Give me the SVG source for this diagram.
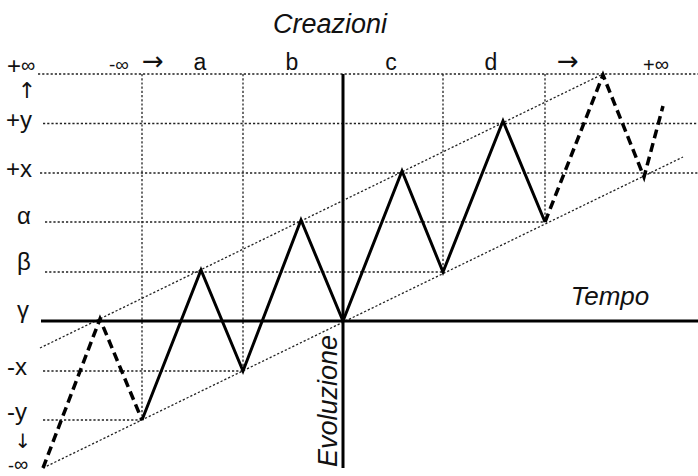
<svg xmlns="http://www.w3.org/2000/svg" width="698" height="476" viewBox="0 0 698 476">
<style>
.dot{stroke:#222;stroke-width:1.3;stroke-dasharray:2.2,2;fill:none}
.axis{stroke:#000;stroke-width:3;fill:none}
.zig{stroke:#000;stroke-width:3;fill:none;stroke-linejoin:miter}
.dash{stroke:#000;stroke-width:3.5;fill:none;stroke-dasharray:9,5}
text{font-family:"Liberation Sans","DejaVu Sans",Arial,sans-serif;fill:#111}
.lbl{font-size:24px}
.top{font-size:23px}
.title{font-size:27px;font-style:italic}
.sm{font-size:20px}
.arr{font-family:"DejaVu Sans",sans-serif;font-size:26px}
</style>
<rect width="698" height="476" fill="#fff"/>
<g id="grid">
<line class="dot" x1="38" y1="74" x2="698" y2="74"/>
<line class="dot" x1="43" y1="123.5" x2="698" y2="123.5"/>
<line class="dot" x1="40" y1="173" x2="698" y2="173"/>
<line class="dot" x1="45" y1="222" x2="545" y2="222"/>
<line class="dot" x1="45" y1="272" x2="443" y2="272"/>
<line class="dot" x1="43" y1="371" x2="243" y2="371"/>
<line class="dot" x1="43" y1="420" x2="142" y2="420"/>
<line class="dot" x1="142" y1="74" x2="142" y2="420"/>
<line class="dot" x1="243" y1="74" x2="243" y2="371"/>
<line class="dot" x1="443" y1="74" x2="443" y2="272"/>
<line class="dot" x1="545" y1="74" x2="545" y2="222"/>
</g>
<g id="channel">
<line class="dot" x1="40" y1="348" x2="603" y2="74"/>
<line class="dot" x1="43" y1="468" x2="683" y2="157"/>
</g>
<g id="axes">
<line class="axis" x1="41" y1="321" x2="698" y2="321"/>
<line class="axis" x1="343" y1="74" x2="343" y2="468"/>
</g>
<g id="connectors">
<polyline class="dash" points="43,468 100,319 142,420"/>
<polyline class="zig" points="142,420 201,270 243,371 301,220 343,321 402,171 443,272 503,121 545,222"/>
<polyline class="dash" points="545,222 603,75 644,177 663,106"/>
</g>
<g id="title-creazioni"><text class="title" x="330" y="33" text-anchor="middle">Creazioni</text></g>
<g id="title-tempo"><text class="title" x="610" y="305" text-anchor="middle" style="font-size:26px">Tempo</text></g>
<g id="title-evoluzione"><text class="title" transform="translate(337,467) rotate(-90)">Evoluzione</text></g>
<g id="left-labels">
<text class="lbl" x="7" y="74">+<tspan class="sm" dy="-2">∞</tspan></text>
<text class="arr" x="27" y="98" text-anchor="middle" style="font-size:22px">↑</text>
<text class="lbl" x="6" y="128">+y</text>
<text class="lbl" x="6" y="177">+x</text>
<text class="lbl" x="17" y="224">α</text>
<text class="lbl" x="17" y="270">β</text>
<text class="lbl" x="17" y="318">γ</text>
<text class="lbl" x="7" y="375">-x</text>
<text class="lbl" x="7" y="420">-y</text>
<text class="arr" x="23" y="448" text-anchor="middle" style="font-size:20px">↓</text>
<text class="lbl" x="8" y="472" style="font-size:18px">-<tspan class="sm" dy="-1">∞</tspan></text>
</g>
<g id="top-labels">
<text x="109" y="71" style="font-size:19px">-∞</text>
<text class="arr" x="142" y="70">→</text>
<text class="top" x="200" y="70" text-anchor="middle">a</text>
<text class="top" x="292" y="70" text-anchor="middle">b</text>
<text class="top" x="391" y="70" text-anchor="middle">c</text>
<text class="top" x="491" y="70" text-anchor="middle">d</text>
<text class="arr" x="557" y="70">→</text>
<text x="643" y="72" style="font-size:20px">+<tspan class="sm" dy="-1">∞</tspan></text>
</g>
</svg>
